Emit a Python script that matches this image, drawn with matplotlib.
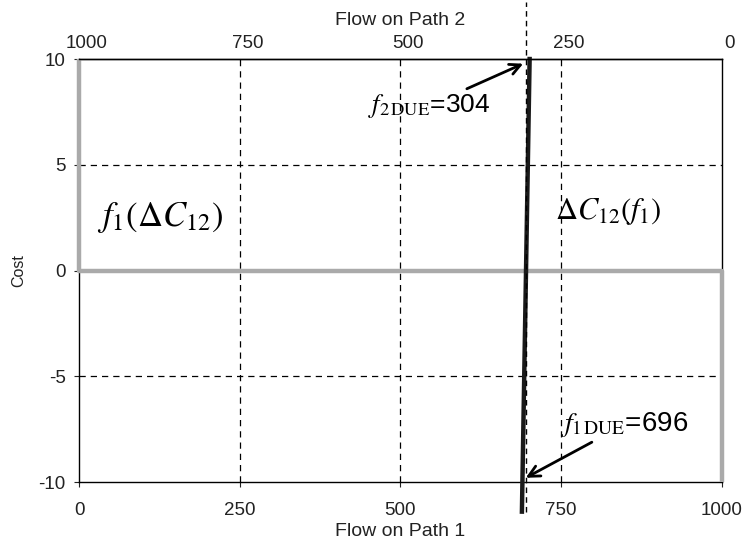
import matplotlib.pyplot as plt
from matplotlib.transforms import ScaledTranslation

# ---- data ----
flow_ticks = [0, 250, 500, 750, 1000]
flow2_labels = ["1000", "750", "500", "250", "0"]
cost_ticks = [-10, -5, 0, 5, 10]

# f1(dC12): inverse step curve (grey)
f1_x = [0, 0, 1000, 1000]
f1_y = [10, 0, 0, -10]

# dC12(f1): steep cost-difference line (black)
dc_x = [689, 701]
dc_y = [-11.4, 10]

f_due = 696

plt.rcParams['font.family'] = ['Liberation Sans', 'DejaVu Sans']
plt.rcParams['mathtext.fontset'] = 'stix'

fig = plt.figure(figsize=(7.44, 5.43), dpi=100)
ax = fig.add_axes([0.1062, 0.1123, 0.864, 0.779])

ax.set_xlim(0, 1000)
ax.set_ylim(-10, 10)
ax.set_xticks(flow_ticks)
ax.set_yticks(cost_ticks)
ax.set_yticklabels([str(v) for v in cost_ticks])
ax.tick_params(labelsize=13.5, length=3.5, direction='out', colors='#222222')
ax.tick_params(axis='x', pad=11)
ax.tick_params(axis='y', pad=6)

# grid
for x in flow_ticks[1:-1]:
    ax.axvline(x, color='black', ls=(0, (5, 4)), lw=0.9, zorder=1)
for y in [-5, 0, 5]:
    ax.axhline(y, color='black', ls=(0, (5, 4)), lw=0.9, zorder=1)

ax.plot(f1_x, f1_y, color='#aaaaaa', lw=3.2, zorder=3, clip_on=False,
        solid_capstyle='butt')
ax.plot(dc_x, dc_y, color='#1a1a1a', lw=3.2, zorder=4, clip_on=False)
ax.plot([f_due, f_due], [-11.4, 12.7], color='black', ls=(0, (4, 3)),
        lw=1.0, zorder=5, clip_on=False)

for s in ax.spines.values():
    s.set_linewidth(1.0)
    s.set_zorder(2)

ax.set_xlabel("Flow on Path 1", fontsize=14, labelpad=2.5, color='#222222')
ax.set_ylabel("Cost", fontsize=11.5, labelpad=9, color='#222222')

top = ax.twiny()
top.set_xlim(0, 1000)
top.set_xticks(flow_ticks)
top.set_xticklabels(flow2_labels)
top.tick_params(labelsize=13.5, length=0, pad=5, colors='#222222')
for side in ['left', 'right', 'bottom']:
    top.spines[side].set_visible(False)
top.spines['top'].set_linewidth(1.0)
shift = ScaledTranslation(8 / 100, 0, fig.dpi_scale_trans)
for lab in top.get_xticklabels():
    lab.set_transform(lab.get_transform() + shift)
top.set_xlabel("Flow on Path 2", fontsize=14, labelpad=7.5, color='#222222')

# curve labels
ax.text(28, 2.5, r"$f_{\mathit{1}}(\Delta C_{12})$", fontsize=25, ha='left', va='center')
ax.text(740, 2.8, r"$\Delta C_{12}(f_{\mathit{1}})$", fontsize=22, ha='left', va='center')

# annotations
ax.annotate(r"$f_{\mathit{2}\,\mathrm{DUE}}$=304", xy=(691, 9.78), xytext=(640, 7.8),
            fontsize=19, ha='right', va='center',
            arrowprops=dict(arrowstyle='->', color='black', lw=2.0,
                            shrinkA=0, shrinkB=0))
ax.annotate(r"$f_{\mathit{1}\,\mathrm{DUE}}$=696", xy=(695, -9.8), xytext=(748, -7.3),
            fontsize=20, ha='left', va='center',
            arrowprops=dict(arrowstyle='->', color='black', lw=2.0,
                            shrinkA=0, shrinkB=0))

fig.savefig("out.png", dpi=100)
